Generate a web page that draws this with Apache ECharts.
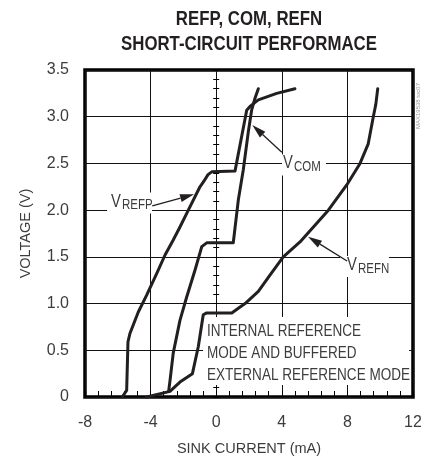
<!DOCTYPE html>
<html>
<head>
<meta charset="utf-8">
<script src="https://cdn.jsdelivr.net/npm/echarts@6/dist/echarts.min.js"></script>
<style>
  html, body { margin: 0; padding: 0; background: #fff; }
  #chart { width: 421px; height: 460px; }
</style>
</head>
<body>
<div id="chart"></div>
<script>
// Short-circuit behaviour of the REFP, COM and REFN pins: sink current (mA) vs. pin voltage (V)
const refpCurrent = [-5.73, -5.46, -5.38, -5.26, -4.75, -4.24, -3.63, -3.12, -2.62, -2.21, -1.70, -0.99, -0.75, -0.50, -0.27, 1.15, 1.86, 2.06, 2.57, 3.69, 4.80];
const refpVoltage = [0.00, 0.07, 0.59, 0.68, 0.91, 1.09, 1.32, 1.52, 1.68, 1.82, 2.00, 2.25, 2.31, 2.38, 2.41, 2.42, 3.07, 3.11, 3.18, 3.25, 3.30];

const comCurrent = [-2.90, -2.80, -2.62, -2.21, -1.80, -1.29, -0.88, -0.58, 1.04, 1.35, 1.65, 1.96, 2.16, 2.37, 2.57];
const comVoltage = [0.06, 0.20, 0.47, 0.82, 1.07, 1.36, 1.61, 1.65, 1.65, 2.11, 2.43, 2.84, 3.07, 3.20, 3.30];

const refnCurrent = [-4.24, -2.82, -2.21, -1.45, -1.09, -0.79, -0.58, 0.95, 1.35, 1.76, 2.57, 3.30, 4.09, 5.11, 6.84, 7.96, 8.77, 9.27, 9.58, 9.73, 9.85];
const refnVoltage = [0.00, 0.06, 0.16, 0.25, 0.54, 0.88, 0.90, 0.90, 0.95, 1.00, 1.13, 1.31, 1.50, 1.66, 2.00, 2.27, 2.50, 2.71, 3.00, 3.13, 3.30];

const xTickLabels = ['-8', '-4', '0', '4', '8', '12'];
const yTickLabels = ['0', '0.5', '1.0', '1.5', '2.0', '2.5', '3.0', '3.5'];

const FONT = '"Liberation Sans", Arial, sans-serif';
const NARROW = 0.82;           // horizontal squeeze for the condensed lettering
const INK = '#231f20';
const TEXT = '#3c3c3c';

function pairs(xs, ys) { return xs.map((x, i) => [x, ys[i]]); }

function curve(name, xs, ys) {
  return {
    name, type: 'line', data: pairs(xs, ys),
    showSymbol: false, symbol: 'none', clip: false, z: 2,
    lineStyle: { color: INK, width: 3, join: 'round', cap: 'round' }
  };
}

// small ticks straddling the x = 0 grid line, every 0.1 V
function centreTicks(inside) {
  return {
    type: 'value', min: 0, max: 3.5, interval: 0.1, position: 'left',
    axisLine: { show: false, onZero: true, onZeroAxisIndex: 0 },
    axisTick: { show: true, inside, length: 3, lineStyle: { color: '#000', width: 1 } },
    axisLabel: { show: false }, splitLine: { show: false }
  };
}

const chart = echarts.init(document.getElementById('chart'), null, { renderer: 'canvas' });

chart.setOption({
  animation: false,
  backgroundColor: '#fff',
  grid: { left: 85, right: 8, top: 70, bottom: 63, show: true, borderColor: '#000', borderWidth: 3.5, outerBoundsMode: 'none' },
  xAxis: {
    type: 'value', min: -8, max: 12, interval: 4,
    name: 'SINK CURRENT (mA)', nameLocation: 'middle', nameGap: 44,
    nameTextStyle: { fontFamily: FONT, fontSize: 14.5, color: TEXT },
    axisLine: { show: false, onZero: false },
    axisTick: { show: true, inside: true, length: 6, lineStyle: { color: '#000', width: 1 } },
    minorTick: { show: true, splitNumber: 5, length: 6, lineStyle: { color: '#000', width: 1 } },
    axisLabel: { fontFamily: FONT, fontSize: 16, color: TEXT, margin: 18,
                 formatter: v => xTickLabels[Math.round((v + 8) / 4)] },
    splitLine: { show: true, lineStyle: { color: '#111', width: 1 } }
  },
  yAxis: [
    {
      type: 'value', min: 0, max: 3.5, interval: 0.5, position: 'left',
      name: 'VOLTAGE (V)', nameLocation: 'middle', nameGap: 52, nameRotate: 90,
      nameTextStyle: { fontFamily: FONT, fontSize: 14.5, color: TEXT },
      axisLine: { show: false, onZero: false },
      axisTick: { show: false },
      axisLabel: { fontFamily: FONT, fontSize: 16, color: TEXT, margin: 16,
                   formatter: v => yTickLabels[Math.round(v / 0.5)] },
      splitLine: { show: true, lineStyle: { color: '#111', width: 1 } }
    },
    centreTicks(false),
    centreTicks(true)
  ],
  series: [
    curve('VREFP', refpCurrent, refpVoltage),
    curve('VCOM', comCurrent, comVoltage),
    curve('VREFN', refnCurrent, refnVoltage)
  ]
});

// ---- annotations placed in data space ----
const px = p => chart.convertToPixel({ xAxisIndex: 0, yAxisIndex: 0 }, p);

function narrowText(x, y, text, font, extra) {
  return Object.assign({
    type: 'text', z: 4, x, y, scaleX: NARROW,
    style: Object.assign({ text, font, fill: TEXT, align: 'left', verticalAlign: 'middle' }, extra || {})
  });
}

function arrow(tailData, tipData) {
  const t = px(tailData), p = px(tipData);
  const dx = p[0] - t[0], dy = p[1] - t[1];
  const len = Math.hypot(dx, dy), ux = dx / len, uy = dy / len;
  const L = 14, W = 4;
  const bx = p[0] - ux * L, by = p[1] - uy * L;
  return [
    { type: 'line', z: 4, shape: { x1: t[0], y1: t[1], x2: bx, y2: by },
      style: { stroke: INK, lineWidth: 1.3 } },
    { type: 'polygon', z: 4,
      shape: { points: [[p[0], p[1]], [bx - uy * W, by + ux * W], [bx + uy * W, by - ux * W]] },
      style: { fill: INK } }
  ];
}

function pinLabel(anchorData, sub, padLeft, bgWidth) {
  const a = px(anchorData);
  return [
    { type: 'rect', z: 3, shape: { x: a[0] - padLeft, y: a[1] - 9, width: bgWidth, height: 21 },
      style: { fill: '#fff' } },
    narrowText(a[0], a[1], 'V', '18px ' + FONT),
    narrowText(a[0] + 11, a[1] + 4, sub, '14px ' + FONT)
  ];
}

const mid = px([2, 3.5]);
const boxTL = px([-0.80, 0.856]), boxBR = px([11.76, 0.128]);
const noteAt = px([-0.56, 0.82]);
const corner = px([12, 3.5]);

chart.setOption({
  graphic: [
    narrowText(mid[0], 19, 'REFP, COM, REFN', 'bold 20.5px ' + FONT, { fill: INK, align: 'center' }),
    narrowText(mid[0], 44, 'SHORT-CIRCUIT PERFORMACE', 'bold 20.5px ' + FONT, { fill: INK, align: 'center' }),

    // note box masking the grid behind it
    { type: 'rect', z: 1, shape: { x: boxTL[0], y: boxTL[1], width: boxBR[0] - boxTL[0], height: boxBR[1] - boxTL[1] },
      style: { fill: '#fff' } },
    narrowText(noteAt[0], noteAt[1], 'INTERNAL REFERENCE\nMODE AND BUFFERED\nEXTERNAL REFERENCE MODE',
               '16.5px ' + FONT, { lineHeight: 22, verticalAlign: 'top' }),

    ...pinLabel([-6.41, 2.092], 'REFP', 4, 45),
    ...arrow([-3.90, 2.045], [-1.35, 2.17]),

    ...pinLabel([4.07, 2.50], 'COM', 1, 44),
    ...arrow([4.00, 2.62], [2.20, 2.91]),

    ...pinLabel([7.98, 1.413], 'REFN', 7, 49),
    ...arrow([7.98, 1.456], [5.60, 1.716]),

    { type: 'text', z: 5, x: corner[0] + 5, y: corner[1] + 36, rotation: Math.PI / 2,
      style: { text: 'MAX19538 toc07', font: '6px ' + FONT, fill: '#9a9a9a', align: 'center', verticalAlign: 'middle' } }
  ]
});
</script>
</body>
</html>
